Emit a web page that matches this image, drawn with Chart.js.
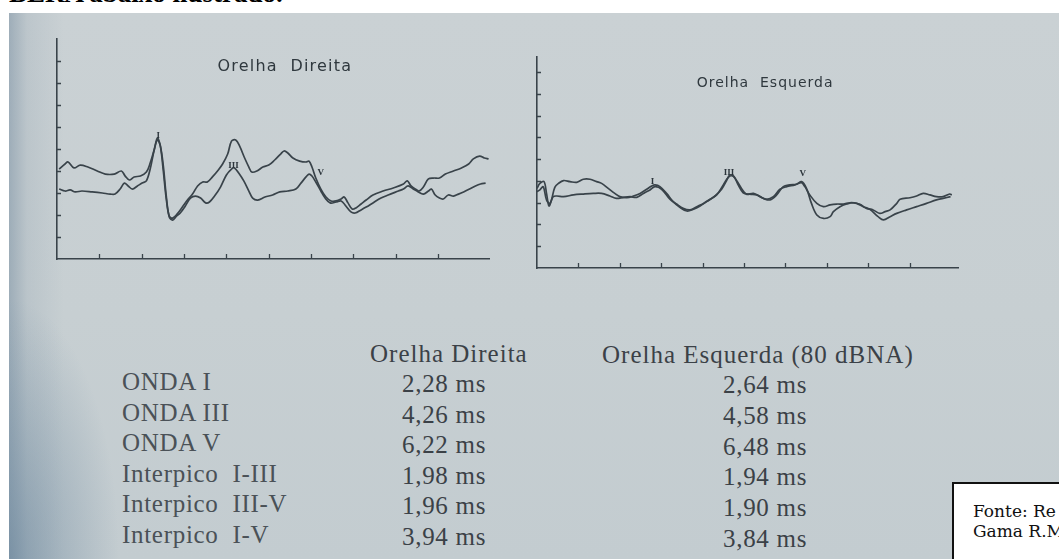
<!DOCTYPE html>
<html><head><meta charset="utf-8">
<script src="https://cdn.jsdelivr.net/npm/chart.js@4.4.1/dist/chart.umd.min.js"></script>
<style>
html,body{margin:0;padding:0;width:1059px;height:559px;overflow:hidden;background:#fff;position:relative}
#topo{position:absolute;left:9px;top:-20px;font:bold 27px "Liberation Serif",serif;line-height:26px;color:#000;white-space:nowrap}
#foto{position:absolute;left:9px;top:13px;width:1050px;height:546px;
 background:
  radial-gradient(ellipse 110px 260px at 0% 100%, rgba(95,125,150,0.55), rgba(95,125,150,0) 100%),
  linear-gradient(90deg, rgba(115,138,158,0.5) 0px, rgba(140,158,172,0.22) 18px, rgba(0,0,0,0) 55px),
  linear-gradient(180deg,#cad1d4 0%,#c7cfd2 55%,#c3ccd0 100%);}
canvas{position:absolute;top:0}
#cDir{left:0}
#cEsq{left:520px}
.t{position:absolute;font-family:"Liberation Serif",serif;font-size:25px;line-height:25px;color:#3b4147;white-space:pre;letter-spacing:0.7px}
.r{color:#4a5157}
.h{letter-spacing:1px}
#fonte{position:absolute;left:952px;top:482px;width:130px;height:100px;background:#fff;border:2px solid #111;box-sizing:border-box;
 font:17px "DejaVu Serif",serif;line-height:20px;color:#111;padding:17px 0 0 19px;white-space:pre}
</style></head>
<body>
<div id="topo">BERA abaixo ilustrado.</div>
<div id="foto"></div>
<canvas id="cDir" width="530" height="300"></canvas>
<canvas id="cEsq" width="539" height="300"></canvas>
<div id="tabela"></div>
<div id="fonte">Fonte: Re
Gama R.M</div>
<script>
// ---------------- DATA ----------------
// Orelha Direita - traçado A (ms, amplitude em divisões do eixo)
const tempoDirA = [0.05,0.19,0.26,0.40,0.55,0.73,0.95,1.14,1.35,1.52,1.61,1.71,1.82,1.97,2.11,2.20,2.30,2.37,2.44,2.51,2.58,2.65,2.73,2.84,2.96,3.08,3.20,3.32,3.44,3.55,3.67,3.79,3.91,4.03,4.12,4.22,4.31,4.43,4.53,4.60,4.72,4.86,5.00,5.14,5.28,5.36,5.45,5.57,5.73,5.88,5.95,6.02,6.11,6.23,6.35,6.47,6.59,6.71,6.78,6.87,6.97,7.06,7.18,7.30,7.46,7.70,7.94,8.18,8.27,8.36,8.46,8.55,8.65,8.77,8.89,9.03,9.17,9.36,9.55,9.72,9.83,9.98,10.09,10.19];
const ampDirA = [4.09,4.32,4.41,4.14,4.27,4.18,4.00,3.86,3.86,4.00,3.77,3.59,3.73,3.77,3.95,4.36,5.00,5.50,5.14,4.00,2.73,1.95,1.86,2.05,2.36,2.68,2.95,3.32,3.50,3.50,3.73,4.00,4.32,4.77,5.36,5.41,5.14,4.59,4.18,3.95,4.00,4.18,4.27,4.50,4.77,4.91,4.82,4.59,4.45,4.41,4.45,4.18,3.68,3.18,2.82,2.64,2.64,2.73,2.82,2.55,2.27,2.32,2.50,2.68,2.91,3.09,3.23,3.41,3.55,3.32,3.18,3.09,3.27,3.64,3.68,3.68,3.86,4.00,4.14,4.32,4.55,4.68,4.59,4.55];
// Orelha Direita - traçado B
const tempoDirB = [0.05,0.19,0.31,0.43,0.59,0.83,1.07,1.26,1.37,1.49,1.59,1.68,1.78,1.90,2.01,2.11,2.20,2.30,2.37,2.44,2.51,2.58,2.65,2.73,2.82,2.91,3.03,3.15,3.27,3.39,3.51,3.60,3.72,3.86,4.00,4.12,4.19,4.29,4.41,4.53,4.62,4.74,4.91,5.09,5.26,5.45,5.64,5.76,5.88,5.95,6.02,6.11,6.23,6.33,6.45,6.59,6.71,6.82,6.94,7.04,7.18,7.30,7.46,7.65,7.82,8.06,8.18,8.29,8.41,8.53,8.65,8.77,8.84,8.93,9.03,9.12,9.24,9.36,9.48,9.60,9.74,9.88,10.00,10.12];
const ampDirB = [3.18,3.09,3.14,3.05,3.09,3.05,3.00,2.95,2.95,3.18,3.45,3.32,3.18,3.32,3.45,3.55,4.09,5.00,5.41,5.14,4.23,2.86,1.91,1.77,1.95,2.09,2.41,2.77,2.86,2.77,2.55,2.59,2.86,3.27,3.82,4.09,4.14,3.91,3.55,3.09,2.77,2.68,2.82,2.91,3.05,3.09,3.18,3.45,3.73,3.86,3.77,3.50,3.09,2.77,2.55,2.59,2.64,2.41,2.14,2.09,2.23,2.36,2.55,2.77,2.91,3.09,3.18,3.32,3.18,3.05,2.95,3.09,3.18,2.91,2.77,2.73,2.91,2.86,2.95,3.05,3.18,3.32,3.41,3.45];
// Orelha Esquerda - traçado C
const tempoEsqC = [0.00,0.07,0.17,0.23,0.29,0.35,0.43,0.52,0.64,0.80,0.96,1.12,1.28,1.44,1.56,1.72,1.88,2.00,2.17,2.33,2.49,2.65,2.77,2.85,2.97,3.13,3.29,3.45,3.62,3.78,3.94,4.10,4.30,4.46,4.58,4.66,4.76,4.86,4.98,5.14,5.31,5.47,5.63,5.79,5.95,6.11,6.27,6.39,6.51,6.63,6.76,6.92,7.08,7.16,7.32,7.48,7.64,7.80,7.96,8.12,8.28,8.41,8.53,8.69,8.77,9.01,9.17,9.33,9.49,9.65,9.81,9.97,10.02];
const ampEsqC = [3.66,3.89,3.97,3.43,2.85,3.13,3.71,3.89,4.02,3.97,3.94,4.08,4.08,3.97,3.89,3.66,3.43,3.28,3.23,3.31,3.43,3.62,3.77,3.82,3.74,3.43,3.05,2.79,2.62,2.70,2.85,3.05,3.31,3.62,4.02,4.28,4.20,3.82,3.46,3.39,3.36,3.20,3.13,3.36,3.74,3.82,3.85,3.97,3.66,2.97,2.44,2.28,2.36,2.59,2.82,2.94,3.00,2.93,2.74,2.67,2.51,2.59,2.67,2.97,3.16,3.23,3.31,3.43,3.36,3.28,3.28,3.40,3.36];
// Orelha Esquerda - traçado D
const tempoEsqD = [0.00,0.07,0.15,0.23,0.31,0.39,0.48,0.64,0.88,1.12,1.36,1.56,1.76,1.92,2.09,2.25,2.41,2.57,2.73,2.85,3.01,3.21,3.37,3.53,3.70,3.86,4.02,4.18,4.34,4.50,4.62,4.73,4.82,4.94,5.06,5.23,5.39,5.55,5.71,5.87,6.03,6.23,6.39,6.47,6.59,6.76,6.92,7.08,7.24,7.40,7.56,7.72,7.88,8.04,8.24,8.37,8.53,8.69,8.93,9.17,9.41,9.65,9.81,9.99];
const ampEsqD = [3.51,3.59,3.74,3.13,2.97,3.28,3.31,3.28,3.36,3.40,3.43,3.43,3.31,3.20,3.25,3.28,3.25,3.43,3.59,3.74,3.62,3.16,2.94,2.74,2.67,2.82,2.97,3.16,3.36,3.82,4.17,4.23,4.02,3.66,3.39,3.43,3.28,3.16,3.28,3.62,3.74,3.82,3.92,3.74,3.36,2.97,2.82,2.90,2.94,2.94,3.00,2.97,2.82,2.70,2.36,2.21,2.36,2.51,2.67,2.82,2.97,3.13,3.20,3.28];
// marcas das ondas
const rotulosOnda = ['I','III','V'];
const marcaDirT = [2.39,4.17,6.23];
const marcaDirAmp = [5.62,4.22,3.92];
const marcaEsqT = [2.79,4.64,6.42];
const marcaEsqAmp = [3.95,4.36,4.32];
// tabela
const rotulosLinha = ['ONDA I','ONDA III','ONDA V','Interpico  I-III','Interpico  III-V','Interpico  I-V'];
const latDireita = [2.28,4.26,6.22,1.98,1.96,3.94];
const latEsquerda = [2.64,4.58,6.48,1.94,1.90,3.84];
const cabecalhos = ['Orelha Direita','Orelha Esquerda (80 dBNA)'];

// ---------------- CHARTS ----------------
const COR = '#39434a';
const pts = (t, a) => t.map((v, i) => ({x: v, y: a[i]}));

const decoracao = {
  id: 'decoracao',
  afterDatasetsDraw(chart, args, o) {
    const {ctx, chartArea: a, scales: {x, y}} = chart;
    ctx.save();
    ctx.strokeStyle = COR; ctx.lineWidth = 1.3;
    ctx.beginPath();
    x.ticks.forEach(t => {
      if (Number.isInteger(t.value) && t.value > 0 && t.value < 10) {
        const px = Math.round(x.getPixelForValue(t.value)) + 0.5;
        ctx.moveTo(px, a.bottom); ctx.lineTo(px, a.bottom - 5);
      }
    });
    y.ticks.forEach(t => {
      if (Number.isInteger(t.value) && t.value > 0 && t.value < 10) {
        const py = Math.round(y.getPixelForValue(t.value)) + 0.5;
        ctx.moveTo(a.left, py); ctx.lineTo(a.left + 4, py);
      }
    });
    ctx.stroke();
    ctx.fillStyle = '#2c353c';
    ctx.font = 'bold 9px "Liberation Serif"';
    ctx.textAlign = 'center'; ctx.textBaseline = 'middle';
    o.rotulos.forEach((r, i) => ctx.fillText(r, x.getPixelForValue(o.mt[i]), y.getPixelForValue(o.ma[i])));
    ctx.fillStyle = '#2f383e';
    ctx.font = o.fonteTitulo;
    ctx.letterSpacing = o.espaco;
    ctx.fillText(o.titulo, x.getPixelForValue(o.tt), y.getPixelForValue(o.ta));
    ctx.restore();
  }
};

function grafico(id, series, xmax, ymax, pad, deco) {
  return new Chart(document.getElementById(id), {
    type: 'line',
    data: {datasets: series.map(s => ({data: s, borderColor: COR, borderWidth: 1.7, pointRadius: 0, tension: 0.35, fill: false}))},
    options: {
      responsive: false, animation: false, events: [],
      layout: {padding: pad},
      scales: {
        x: {type: 'linear', min: 0, max: xmax, ticks: {display: false, stepSize: 1},
            grid: {display: false, drawTicks: false}, border: {display: true, color: COR, width: 1.6},
            afterFit(s) { s.height = 0; }},
        y: {type: 'linear', min: 0, max: ymax, ticks: {display: false, stepSize: 1},
            grid: {display: false, drawTicks: false}, border: {display: true, color: COR, width: 1.6},
            afterFit(s) { s.width = 0; }}
      },
      plugins: {legend: {display: false}, tooltip: {enabled: false}, decoracao: deco}
    },
    plugins: [decoracao]
  });
}

grafico('cDir', [pts(tempoDirA, ampDirA), pts(tempoDirB, ampDirB)], 10.2, 10,
  {left: 57, top: 39, right: 41, bottom: 41},
  {rotulos: rotulosOnda, mt: marcaDirT, ma: marcaDirAmp, titulo: 'Orelha  Direita',
   tt: 5.38, ta: 8.73, fonteTitulo: '16px "DejaVu Sans"', espaco: '1.2px'});

grafico('cEsq', [pts(tempoEsqC, ampEsqC), pts(tempoEsqD, ampEsqD)], 10.17, 9.7,
  {left: 17, top: 57, right: 101, bottom: 32},
  {rotulos: rotulosOnda, mt: marcaEsqT, ma: marcaEsqAmp, titulo: 'Orelha  Esquerda',
   tt: 5.51, ta: 8.5, fonteTitulo: '14px "DejaVu Sans"', espaco: '1px'});

// ---------------- TABLE ----------------
const tab = document.getElementById('tabela');
function txt(s, x, base, cls) {
  const d = document.createElement('div');
  d.className = 't' + (cls ? ' ' + cls : '');
  d.textContent = s;
  d.style.left = x + 'px';
  d.style.top = (base - 21) + 'px';
  tab.appendChild(d);
}
const fmt = v => v.toFixed(2).replace('.', ',') + ' ms';
txt(cabecalhos[0], 370, 362, 'h');
txt(cabecalhos[1], 602, 363, 'h');
rotulosLinha.forEach((r, i) => {
  txt(r, 122, 390 + 30.5 * i, 'r');
  txt(fmt(latDireita[i]), 402, 392 + 30.6 * i);
  txt(fmt(latEsquerda[i]), 723, 393 + 30.8 * i);
});
</script>
</body></html>
